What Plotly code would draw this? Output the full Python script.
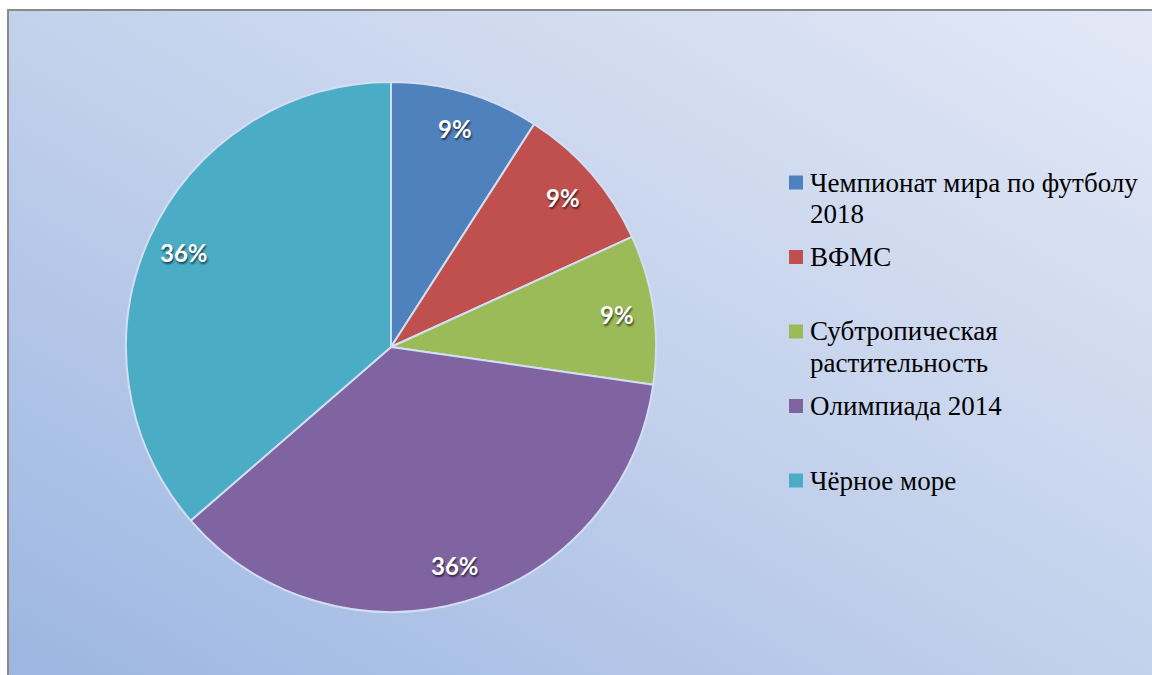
import base64, math
import plotly.graph_objects as go

categories = ["Чемпионат мира по футболу<br>2018", "ВФМС", "Субтропическая<br>растительность",
              "Олимпиада 2014", "Чёрное море"]
values = [1, 1, 1, 4, 4]
colors = ["#4f81bd", "#c0504d", "#9bbb59", "#8064a2", "#4bacc6"]

W, H = 1152, 675
def px(x): return x / W
def py(y): return 1 - y / H

# pie geometry in pixels
cx, cy, R = 391, 347, 265
dom_x = [px(cx - R), px(cx + R)]
dom_y = [py(cy + R), py(cy - R)]

fig = go.Figure(go.Pie(
    labels=categories, values=values, sort=False, direction="clockwise", rotation=0,
    marker=dict(colors=colors, line=dict(color="#d3def2", width=2)),
    textinfo="none", hoverinfo="label+percent", showlegend=False,
    domain=dict(x=dom_x, y=dom_y),
))

# background gradient
svg = ('<svg xmlns="http://www.w3.org/2000/svg" width="100" height="100" preserveAspectRatio="none">'
       '<defs><linearGradient id="g" x1="0" y1="1" x2="1" y2="0">'
       '<stop offset="0" stop-color="#9cb6e2"/><stop offset="0.5" stop-color="#c3d1ec"/>'
       '<stop offset="1" stop-color="#e3e9f6"/></linearGradient></defs>'
       '<rect width="100" height="100" fill="url(#g)"/></svg>')
src = "data:image/svg+xml;base64," + base64.b64encode(svg.encode()).decode()
fig.add_layout_image(dict(source=src, xref="paper", yref="paper", x=px(8), y=py(10),
                          sizex=px(1160) - px(8), sizey=py(10) - py(680), sizing="stretch",
                          layer="below", xanchor="left", yanchor="top"))
fig.add_shape(type="rect", xref="paper", yref="paper", x0=px(8), y0=py(680), x1=px(1160), y1=py(10),
              line=dict(color="#8a8a8a", width=2), layer="above")

# percentage labels
total = sum(values)
acc = 0
for v in values:
    mid = (acc + v / 2) / total * 2 * math.pi
    acc += v
    rl = 0.86 * R
    x = cx + rl * math.sin(mid)
    y = cy - rl * math.cos(mid)
    fig.add_annotation(x=px(x), y=py(y), xref="paper", yref="paper", showarrow=False,
                       xanchor="center", yanchor="middle",
                       text=f"{round(v / total * 100)}%",
                       font=dict(family="Lato", size=24, color="white", weight="bold",
                                 shadow="1px 2px 2px rgba(0,0,0,0.6)"))

# legend
leg_x, leg_y0, leg_dy, line_h = 796, 182.5, 74.5, 31
for i, (lab, col) in enumerate(zip(categories, colors)):
    yc = leg_y0 + i * leg_dy
    fig.add_shape(type="rect", xref="paper", yref="paper", x0=px(leg_x - 7), x1=px(leg_x + 7),
                  y0=py(yc + 7), y1=py(yc - 7), fillcolor=col, line=dict(width=0))
    for j, part in enumerate(lab.split("<br>")):
        fig.add_annotation(x=px(808), y=py(yc + j * line_h), xref="paper", yref="paper",
                           showarrow=False, xanchor="left", yanchor="middle", align="left",
                           text=part, font=dict(family="Liberation Serif", size=27, color="black"))

fig.update_layout(width=W, height=H, margin=dict(l=0, r=0, t=0, b=0),
                  paper_bgcolor="white", plot_bgcolor="white")
fig.write_html("out.html", config={"displayModeBar": False},
               post_script="document.body.style.margin='0';document.body.style.overflow='hidden';")
